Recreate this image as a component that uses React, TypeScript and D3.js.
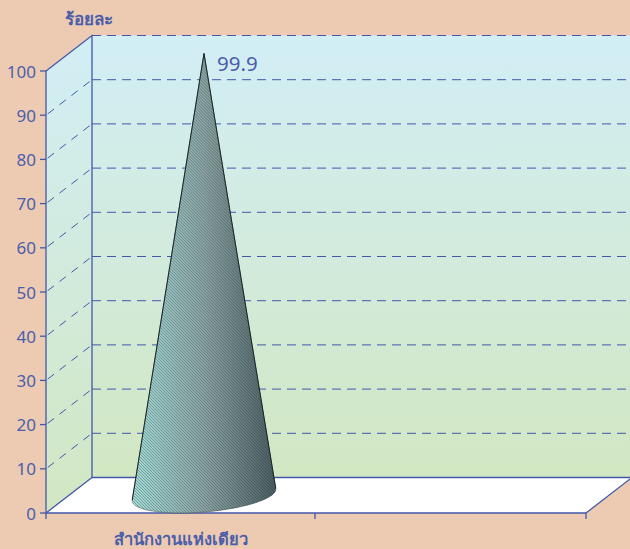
import React from 'react';
import * as d3 from 'd3';

const categories = ['สำนักงานแห่งเดียว', ''];
const values = [99.9];
const yTicks = [0, 10, 20, 30, 40, 50, 60, 70, 80, 90, 100];
const yTitle = 'ร้อยละ';

const width = 630;
const height = 549;
const blue = '#4358aa';
const textBlue = '#4a5eaa';
const dx = 46;
const dy = 35.5;

const x = d3.scaleBand<string>().domain(categories).range([46, 586]).paddingInner(0).paddingOuter(0);
const y = d3.scaleLinear().domain([0, 100]).range([513, 71]);

const App: React.FC = () => {
  const backLeft = x.range()[0] + dx;
  const backRight = x.range()[1] + dx;
  const front0 = y(0);
  const frontTop = y(100);
  const left = x.range()[0];
  const right = x.range()[1];

  // cone sits half way into the depth of the floor
  const cx = x(categories[0])! + x.bandwidth() / 2 + dx / 2;
  const cy = front0 - 18;
  const apexY = y(values[0]) - 18;
  const rx = x.bandwidth() * 0.252;
  const vx = dx / 2;
  const vy = -18;
  const A = apexY - cy;

  // where the outline leaves the tilted base ellipse
  const a = -rx * A;
  const b = -vx * A;
  const c = -rx * vy;
  const phi = Math.atan2(-b, a) * -1;
  const mag = Math.hypot(a, b);
  const t1 = phi + Math.asin(c / mag);
  const t2 = phi + Math.PI - Math.asin(c / mag);
  const pt = (t: number): [number, number] => [
    cx + Math.cos(t) * rx + Math.sin(t) * vx,
    cy + Math.sin(t) * vy,
  ];
  const arc = d3.range(0, 41).map((i) => pt(t2 + ((t1 + 2 * Math.PI - t2) * i) / 40));
  const conePath = `M${cx},${apexY}L` + arc.map((p) => p.join(',')).join('L') + 'Z';
  const coneLeft = d3.min(arc, (p) => p[0])!;
  const coneRight = d3.max(arc, (p) => p[0])!;

  return (
    <svg width={width} height={height} style={{ position: 'absolute', left: 0, top: 0 }} fontFamily="'Noto Sans', 'DejaVu Sans', sans-serif">
      <defs>
        <linearGradient id="wall" x1="0" y1="0" x2="0" y2="1">
          <stop offset="0" stopColor="#d2eef6" />
          <stop offset="1" stopColor="#d2e7c2" />
        </linearGradient>
        <linearGradient id="coneLight" gradientUnits="userSpaceOnUse" x1={coneLeft} x2={coneRight} y1="0" y2="0">
          <stop offset="0" stopColor="#dff3ef" />
          <stop offset="0.5" stopColor="#a6b6b5" />
          <stop offset="1" stopColor="#566a6e" />
        </linearGradient>
        <linearGradient id="coneDark" gradientUnits="userSpaceOnUse" x1={coneLeft} x2={coneRight} y1="0" y2="0">
          <stop offset="0" stopColor="#4a9f9a" />
          <stop offset="0.5" stopColor="#5a7a7b" />
          <stop offset="1" stopColor="#36464a" />
        </linearGradient>
        <pattern id="stripes" width="2.12" height="2.12" patternUnits="userSpaceOnUse" patternTransform="rotate(-45)">
          <rect width="1.06" height="2.12" fill="#fff" />
        </pattern>
        <mask id="hatch" maskUnits="userSpaceOnUse" x="0" y="0" width={width} height={height}>
          <rect width={width} height={height} fill="url(#stripes)" />
        </mask>
      </defs>
      <rect width={width} height={height} fill="#edcbb3" />

      <path d={`M${left},${front0}L${backLeft},${front0 - dy}H${backRight}L${right},${front0}Z`} fill="#fff" />
      <path d={`M${left},${front0}V${frontTop}L${backLeft},${frontTop - dy}V${front0 - dy}Z`} fill="url(#wall)" />
      <rect x={backLeft} y={frontTop - dy} width={backRight - backLeft} height={front0 - frontTop} fill="url(#wall)" />

      {yTicks.slice(1).map((t) => (
        <g key={t} stroke={blue} strokeWidth={1} fill="none">
          {t < 100 && <line x1={backLeft} y1={y(t) - dy} x2={left} y2={y(t)} strokeDasharray="8 7" strokeDashoffset="-3" />}
          <line x1={backLeft} y1={y(t) - dy} x2={backRight} y2={y(t) - dy} strokeDasharray="9 6" />
        </g>
      ))}

      <g stroke={blue} strokeWidth={1.3} fill="none">
        <path d={`M${left},${frontTop}V${front0}H${right}`} />
        <path d={`M${left},${frontTop}L${backLeft},${frontTop - dy}V${front0 - dy}H${backRight}`} />
        <path d={`M${left},${front0}L${backLeft},${front0 - dy}`} />
        <path d={`M${right},${front0}L${backRight},${front0 - dy}`} />
        {yTicks.map((t) => (
          <line key={t} x1={left - 6} x2={left} y1={y(t)} y2={y(t)} />
        ))}
        {[left, x(categories[1])! - 1, right].map((v) => (
          <line key={v} x1={v} x2={v} y1={front0} y2={front0 + 6} />
        ))}
      </g>

      <path d={conePath} fill="url(#coneLight)" />
      <path d={conePath} fill="url(#coneDark)" mask="url(#hatch)" />
      <path d={conePath} fill="none" stroke="#3c4a4c" strokeWidth={0.5} />
      <path d={`M${pt(t2).join(',')}L${cx},${apexY}L${pt(t1).join(',')}`} fill="none" stroke="#1c2526" strokeWidth={1} />

      {yTicks.map((t) => (
        <text key={t} x={36} y={y(t) + 6.5} textAnchor="end" fontSize={17} fill={textBlue}>
          {t}
        </text>
      ))}
      <text x={217} y={71} fontSize={20.5} fill={textBlue}>
        {values[0]}
      </text>
      <text x={65} y={25} fontSize={17} fontWeight="bold" fill={textBlue}>
        {yTitle}
      </text>
      <text x={x(categories[0])! + x.bandwidth() / 2} y={545} textAnchor="middle" fontSize={16.5} fontWeight="bold" fill={textBlue}>
        {categories[0]}
      </text>
    </svg>
  );
};

export default App;
